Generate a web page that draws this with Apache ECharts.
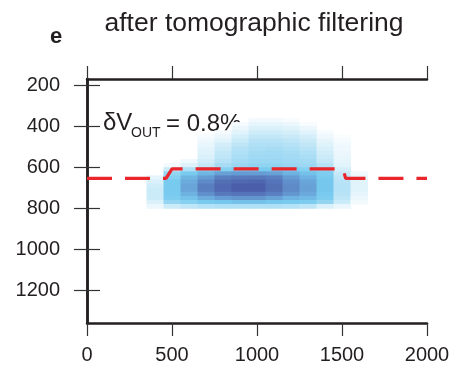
<!DOCTYPE html>
<html>
<head>
<meta charset="utf-8">
<script src="https://cdn.jsdelivr.net/npm/echarts@6/dist/echarts.min.js"></script>
<style>
html,body{margin:0;padding:0;background:#fff;}
#chart{width:453px;height:370px;}
</style>
</head>
<body>
<div id="chart"></div>
<script>
// ---- data ----
const xTicks = [0, 500, 1000, 1500, 2000];
const yTicks = [200, 400, 600, 800, 1000, 1200];
const columns = [400, 500, 600, 700, 800, 900, 1000, 1100, 1200, 1300, 1400, 1500, 1600];
const depths = [370, 390, 410, 430, 450, 470, 490, 510, 530, 550, 570, 590, 610, 630, 650, 670, 690, 710, 730, 750, 770, 790];
// intensity[row][col], rows follow depths, cols follow columns
const intensity = [
  [0,0,0,0,0,0,0.05,0.05,0.03,0,0,0,0],
  [0,0,0,0,0,0.04,0.1,0.1,0.08,0.03,0,0,0],
  [0,0,0,0,0,0.08,0.15,0.15,0.13,0.08,0,0,0],
  [0,0,0,0,0.04,0.12,0.19,0.19,0.17,0.12,0.04,0,0],
  [0,0,0,0.04,0.08,0.17,0.23,0.23,0.21,0.17,0.07,0.02,0],
  [0,0,0,0.07,0.12,0.21,0.27,0.27,0.25,0.21,0.1,0.04,0],
  [0,0,0,0.09,0.17,0.25,0.3,0.3,0.28,0.24,0.13,0.06,0],
  [0,0,0,0.11,0.2,0.28,0.32,0.33,0.31,0.27,0.16,0.07,0],
  [0,0,0,0.13,0.23,0.3,0.34,0.35,0.33,0.3,0.18,0.08,0],
  [0,0,0,0.15,0.25,0.32,0.36,0.36,0.34,0.32,0.2,0.09,0],
  [0,0,0.07,0.18,0.28,0.34,0.38,0.38,0.36,0.34,0.23,0.1,0],
  [0,0.05,0.14,0.23,0.33,0.38,0.41,0.41,0.39,0.37,0.28,0.12,0],
  [0,0.2,0.3,0.4,0.45,0.48,0.5,0.5,0.48,0.45,0.4,0.17,0],
  [0,0.4,0.5,0.6,0.7,0.72,0.72,0.7,0.62,0.55,0.48,0.22,0.06],
  [0.1,0.45,0.6,0.72,0.85,0.88,0.88,0.85,0.72,0.62,0.5,0.25,0.1],
  [0.15,0.5,0.65,0.8,0.92,0.95,0.96,0.9,0.78,0.68,0.52,0.27,0.12],
  [0.18,0.5,0.68,0.85,0.95,1.0,1.0,0.92,0.8,0.7,0.52,0.28,0.12],
  [0.2,0.5,0.68,0.85,0.95,1.0,1.0,0.92,0.8,0.7,0.52,0.28,0.12],
  [0.2,0.5,0.62,0.78,0.88,0.9,0.9,0.85,0.75,0.66,0.5,0.27,0.1],
  [0.2,0.48,0.55,0.65,0.72,0.75,0.75,0.7,0.62,0.58,0.48,0.25,0.08],
  [0.15,0.4,0.45,0.5,0.52,0.55,0.55,0.52,0.5,0.48,0.4,0.2,0.05],
  [0.08,0.2,0.25,0.28,0.3,0.3,0.3,0.3,0.28,0.25,0.15,0.08,0]
];
const lineX = [0, 465, 500, 1505, 1522, 2000];
const lineY = [655, 655, 608, 608, 655, 655];
const cellW = 100, cellH = 20;

// ---- build ----
const cells = [];
depths.forEach((d, r) => {
  columns.forEach((c, k) => {
    const v = intensity[r][k];
    if (v > 0) cells.push([c, d, v]);
  });
});
const lineData = lineX.map((x, i) => [x, lineY[i]]);

const FONT = "'Liberation Sans', Arial, Helvetica, sans-serif";
const INK = '#231f20';
const plain = v => String(v);

const chart = echarts.init(document.getElementById('chart'), null, {renderer: 'canvas'});

const axisLineStyle = {show: true, lineStyle: {color: INK, width: 2.5}};
const tickStyle = {show: true, inside: false, length: 13, lineStyle: {color: '#333', width: 1.2}};

chart.setOption({
  animation: false,
  backgroundColor: '#fff',
  grid: {left: 87, right: 26, top: 79, bottom: 47, containLabel: false},
  visualMap: {
    type: 'continuous', show: false, seriesIndex: 0, dimension: 2, min: 0, max: 1,
    inRange: {color: ['#ffffff', '#d6effa', '#a6dcf4', '#78cbef', '#6aa8db', '#5b83c3', '#4b5ea9']}
  },
  xAxis: [
    {type: 'value', position: 'bottom', min: 0, max: 2000, interval: 500,
     axisLine: axisLineStyle, axisTick: tickStyle, splitLine: {show: false},
     axisLabel: {fontSize: 20, color: INK, fontFamily: FONT, margin: 22, formatter: plain}},
    {type: 'value', position: 'top', min: 0, max: 2000, interval: 500,
     axisLine: axisLineStyle, axisTick: tickStyle, splitLine: {show: false},
     axisLabel: {show: false}}
  ],
  yAxis: [
    {type: 'value', position: 'left', inverse: true, min: 170, max: 1360,
     axisLine: axisLineStyle,
     axisTick: Object.assign({}, tickStyle, {customValues: yTicks}),
     splitLine: {show: false},
     axisLabel: {fontSize: 20, color: INK, fontFamily: FONT, margin: 27, customValues: yTicks, formatter: plain}},
    {type: 'value', position: 'right', inverse: true, min: 170, max: 1360,
     axisLine: axisLineStyle,
     axisTick: Object.assign({}, tickStyle, {customValues: yTicks}),
     splitLine: {show: false},
     axisLabel: {show: false, customValues: yTicks}}
  ],
  series: [
    {
      type: 'custom',
      xAxisIndex: 0, yAxisIndex: 0,
      clip: true,
      data: cells,
      renderItem: function (params, api) {
        const x = api.value(0), y = api.value(1);
        const p1 = api.coord([x - cellW / 2, y - cellH / 2]);
        const p2 = api.coord([x + cellW / 2, y + cellH / 2]);
        const x0 = Math.min(p1[0], p2[0]), y0 = Math.min(p1[1], p2[1]);
        return {
          type: 'rect',
          shape: {x: x0, y: y0, width: Math.abs(p2[0] - p1[0]) + 0.6, height: Math.abs(p2[1] - p1[1]) + 0.6},
          style: {fill: api.visual('color')}
        };
      }
    },
    {
      type: 'line',
      xAxisIndex: 0, yAxisIndex: 0,
      data: lineData,
      symbol: 'none',
      lineStyle: {color: '#e8262b', width: 3.2, type: [25, 13]},
      z: 5
    }
  ],
  graphic: [
    {type: 'text', left: 50, top: 26, style: {text: 'e', font: "bold 22px " + FONT, fill: INK}},
    {type: 'text', x: 254, y: 24, style: {text: 'after tomographic filtering', font: "26.5px " + FONT, fill: INK, textAlign: 'center', textVerticalAlign: 'middle'}},
    {type: 'text', x: 103, y: 123, style: {text: 'δV', font: "24px " + FONT, fill: INK, textAlign: 'left', textVerticalAlign: 'middle'}},
    {type: 'text', x: 131, y: 133, style: {text: 'OUT', font: "14px " + FONT, fill: INK, textAlign: 'left', textVerticalAlign: 'middle'}},
    {type: 'text', x: 166, y: 124, style: {text: '= 0.8%', font: "24px " + FONT, fill: INK, textAlign: 'left', textVerticalAlign: 'middle'}}
  ]
});
</script>
</body>
</html>
